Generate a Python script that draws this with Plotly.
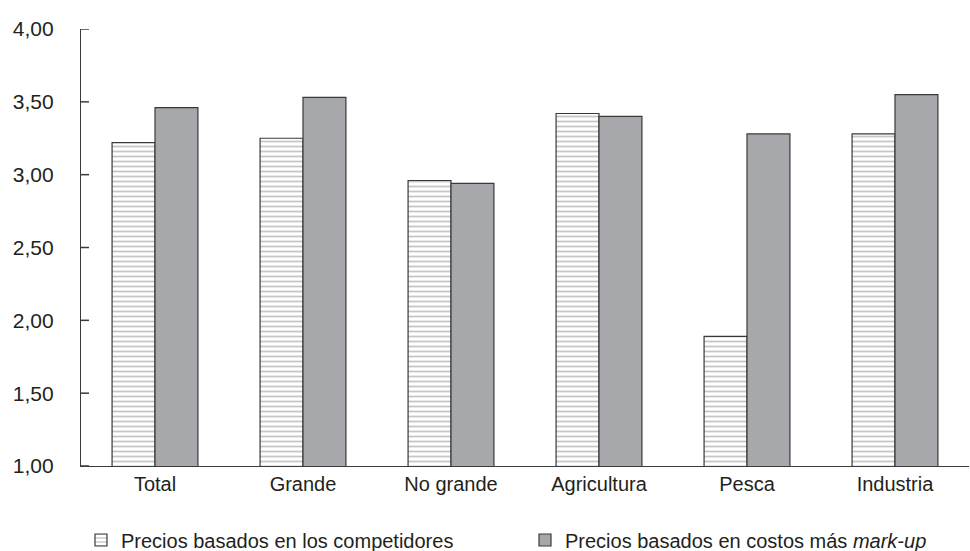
import plotly.graph_objects as go

categories = ["Total", "Grande", "No grande", "Agricultura", "Pesca", "Industria"]
competidores = [3.22, 3.25, 2.96, 3.42, 1.89, 3.28]
markup = [3.46, 3.53, 2.94, 3.40, 3.28, 3.55]
y_ticks = [1.0, 1.5, 2.0, 2.5, 3.0, 3.5, 4.0]
y_range = [1.0, 4.0]

FONT = "Liberation Sans Narrow, Arial Narrow, Liberation Sans, Arial, sans-serif"
TEXT = "#231f20"
EDGE = "#3a3a3a"

fig = go.Figure()
fig.add_trace(go.Bar(
    x=categories, y=competidores,
    name="Precios basados en los competidores",
    legend="legend",
    marker=dict(
        color="white",
        line=dict(color=EDGE, width=1.2),
        pattern=dict(shape="-", fgcolor="#8c8c8c", bgcolor="white",
                     size=5, solidity=0.35),
    ),
))
fig.add_trace(go.Bar(
    x=categories, y=markup,
    name="Precios basados en costos más <i>mark-up</i>",
    legend="legend2",
    marker=dict(color="#a7a8ab", line=dict(color=EDGE, width=1.2)),
))

legend_style = dict(
    orientation="h", xanchor="left",
    yref="container", y=0.02, yanchor="middle",
    font=dict(family=FONT, size=20, color=TEXT),
    itemclick=False, itemdoubleclick=False,
    bgcolor="rgba(0,0,0,0)",
)

fig.update_layout(
    width=970, height=551,
    margin=dict(l=81, r=1, t=29, b=85),
    paper_bgcolor="white", plot_bgcolor="white",
    barmode="group", bargap=0.42, bargroupgap=0,
    separators=", ",
    font=dict(family=FONT, size=20, color=TEXT),
    showlegend=True,
    legend=dict(x=0.0, **legend_style),
    legend2=dict(x=0.5, **legend_style),
)
# transparent outward ticks keep the labels clear of the axis line
fig.update_yaxes(
    range=y_range, tickvals=y_ticks, tickformat=".2f",
    showgrid=False, zeroline=False,
    showline=True, linecolor=EDGE, linewidth=1.2,
    ticks="outside", ticklen=22, tickcolor="rgba(0,0,0,0)",
    tickfont=dict(family=FONT, size=21, color=TEXT),
)
fig.update_xaxes(
    showgrid=False, showline=True, linecolor=EDGE, linewidth=1.2,
    ticks="", tickfont=dict(family=FONT, size=20, color=TEXT),
)

# short inward tick marks at each y tick value
for v in y_ticks:
    fig.add_shape(
        type="line", xref="x domain", yref="y",
        x0=0, x1=0.009, y0=v, y1=v,
        line=dict(color=EDGE, width=1.5), layer="above",
    )

fig.write_html("out.html")
